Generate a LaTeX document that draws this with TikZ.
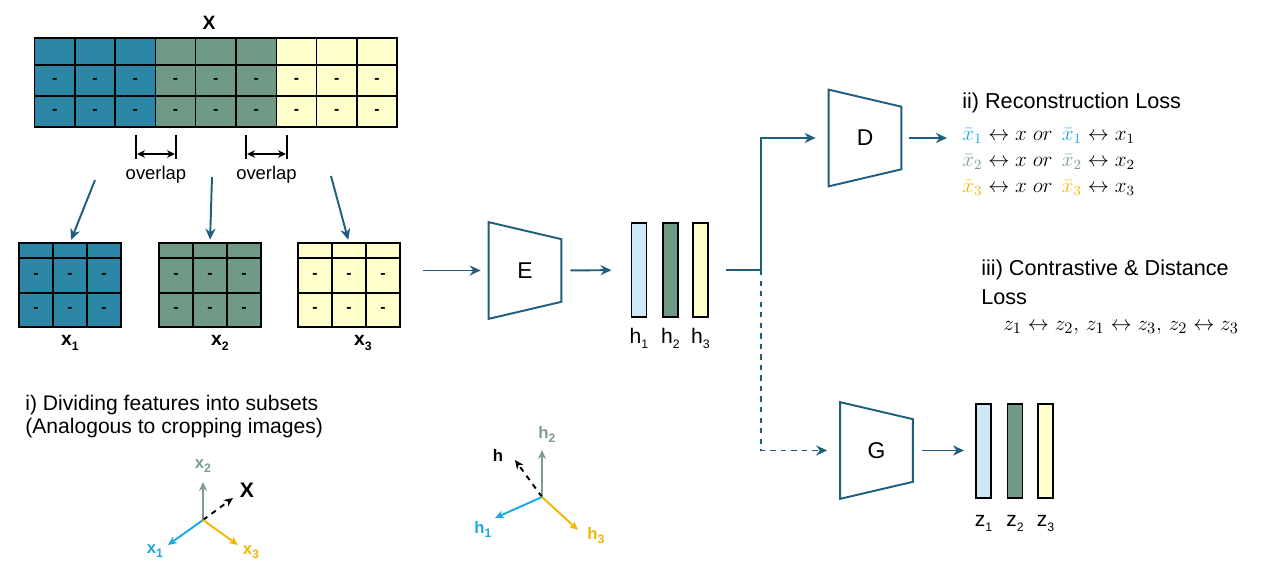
\documentclass[tikz,border=0pt]{standalone}
\usepackage{fontspec}
\setmainfont{Liberation Sans}
\setsansfont{Liberation Sans}
\usepackage{tikz}
\usetikzlibrary{calc,arrows.meta,positioning}
\definecolor{cellA}{RGB}{44,134,166}
\definecolor{cellB}{RGB}{111,154,133}
\definecolor{cellC}{RGB}{255,255,204}
\definecolor{barA}{RGB}{207,232,248}
\definecolor{netline}{RGB}{31,94,126}
\definecolor{vecA}{RGB}{28,168,227}
\definecolor{vecB}{RGB}{125,156,142}
\definecolor{vecC}{RGB}{242,183,5}
\newcommand{\lo}[1]{\raisebox{-0.45ex}{\scriptsize #1}}

\tikzset{
  net/.style={netline, line width=1.1pt},
  flow/.style={net, -{Stealth[length=2.2mm,width=2mm]}},
  block/.style={minimum width=1.44cm, minimum height=1.92cm, inner sep=0pt, font=\fontsize{13}{15}\selectfont},
  bar/.style={draw=black, line width=1.1pt, minimum width=0.3cm, minimum height=1.88cm, inner sep=0pt},
  cellline/.style={black, line width=0.8pt},
  celldash/.style={font=\small\bfseries, inner sep=0pt},
  vec/.style={line width=1.1pt, -{Stealth[length=1.8mm,width=1.6mm]}},
  lbl/.style={font=\fontsize{11}{13}\selectfont\bfseries},
  vlbl/.style={font=\fontsize{9.5}{11}\selectfont\bfseries},
  txt/.style={font=\fontsize{12.3}{14}\selectfont, anchor=west, inner sep=0pt},
  eq/.style={font=\fontsize{12}{14}\selectfont, anchor=west, inner sep=0pt},
}

\begin{document}
\begin{tikzpicture}[x=0.02cm, y=-0.02cm]
  \useasboundingbox (0,0) rectangle (1268,570);
  % Feature table X
  \foreach \c/\col in {0/cellA,1/cellA,2/cellA,3/cellB,4/cellB,5/cellB,6/cellC,7/cellC,8/cellC}
    \fill[\col] (34.5+\c*40.3,38) rectangle ++(40.3,89);
  \draw[cellline] (34.5,38) rectangle (397,127);
  \foreach \c in {1,...,8}
    \draw[cellline] (34.5+\c*40.3,38) -- ++(0,89);
  \foreach \yy in {65,96}
    \draw[cellline] (34.5,\yy) -- (397,\yy);
  \foreach \c in {0,...,8}
    \foreach \r/\yy in {1/80.5,2/111.5}
      \node[celldash] (X-\c-\r) at (54.65+\c*40.3,\yy) {-};
  \node[inner sep=0pt, minimum width=7.25cm, minimum height=1.78cm] (X) at (215.75,82.5) {};
  \node[lbl] (Xlbl) at (209,23) {X};
  % Overlap brackets
  \foreach \a/\b in {136/176,246/287} {
    \draw[black, line width=1pt] (\a,135) -- (\a,159);
    \draw[black, line width=1pt] (\b,135) -- (\b,159);
    \draw[black, line width=0.9pt, {Stealth[length=1.6mm,width=1.5mm]}-{Stealth[length=1.6mm,width=1.5mm]}] (\a+1,154) -- (\b-1,154);
    \node[font=\fontsize{10.5}{12}\selectfont] (ov\a) at ({(\a+\b)/2},175) {overlap};
  }
  % Subsets x1, x2, x3
  \foreach \s/\col/\x/\lx in {1/cellA/19/70,2/cellB/159/220,3/cellC/298/363} {
    \fill[\col] (\x,243) rectangle ++(102,84);
    \draw[cellline] (\x,243) rectangle ++(102,84);
    \foreach \k in {1,2}
      \draw[cellline] (\x+\k*34,243) -- ++(0,84);
    \foreach \yy in {258,293}
      \draw[cellline] (\x,\yy) -- ++(102,0);
    \foreach \k in {0,1,2}
      \foreach \r/\yy in {1/275.5,2/310}
        \node[celldash] (s\s-\k-\r) at (\x+\k*34+17,\yy) {-};
    \node[inner sep=0pt, minimum width=2.04cm, minimum height=1.68cm] (s\s) at (\x+51,285) {};
    \node[lbl] (x\s) at (\lx,343) {x\lo{\s}};
  }
  % Split arrows
  \coordinate (a1) at (95,180);
  \coordinate (a2) at (212,177);
  \coordinate (a3) at (331,176);
  \foreach \s in {1,2,3}
    \draw[flow, shorten >=0.06cm] (a\s) -- (s\s.north);
  \node[txt, font=\fontsize{12}{14}\selectfont] (note1) at (25,405) {i) Dividing features into subsets};
  \node[txt, font=\fontsize{12}{14}\selectfont] (note2) at (25,428) {(Analogous to cropping images)};
  % Encoder, decoder, projection head
  \node[block] (E) at (525,270.5) {E};
  \node[block] (D) at (865,138) {D};
  \node[block] (G) at (876.5,450.5) {G};
  \foreach \n in {E,D,G}
    \draw[net] (\n.north west) -- ($(\n.north east)+(0,17)$) -- ($(\n.south east)+(0,-17)$) -- (\n.south west) -- cycle;
  % Representations h and z
  \foreach \i/\col/\x in {1/barA/639,2/cellB/670.5,3/cellC/700.5} {
    \node[bar, fill=\col] (h\i) at (\x,270) {};
    \node[font=\fontsize{12}{14}\selectfont] (hl\i) at (\x,338) {h\lo{\i}};
  }
  \foreach \i/\col/\x in {1/barA/983.5,2/cellB/1015,3/cellC/1045.5} {
    \node[bar, fill=\col] (z\i) at (\x,451) {};
    \node[font=\fontsize{12}{14}\selectfont] (zl\i) at (\x,523) {z\lo{\i}};
  }
  % Losses
  \node[txt] (rec) at (962,103) {ii) Reconstruction Loss};
  \node[eq] (eq1) at (962,136) {$\color{vecA}\bar{x}_1\color{black} \leftrightarrow x\ or\ \,\color{vecA}\bar{x}_1\color{black} \leftrightarrow x_1$};
  \node[eq] (eq2) at (962,162) {$\color{vecB}\bar{x}_2\color{black} \leftrightarrow x\ or\ \,\color{vecB}\bar{x}_2\color{black} \leftrightarrow x_2$};
  \node[eq] (eq3) at (962,188) {$\color{vecC}\bar{x}_3\color{black} \leftrightarrow x\ or\ \,\color{vecC}\bar{x}_3\color{black} \leftrightarrow x_3$};
  \node[txt] (con) at (981,270) {iii) Contrastive \& Distance};
  \node[txt] (con2) at (981,297) {Loss};
  \node[eq, font=\fontsize{12.8}{14}\selectfont] (eq4) at (1003,328) {$z_1 \leftrightarrow z_2,\, z_1 \leftrightarrow z_3,\, z_2 \leftrightarrow z_3$};
  % Data flow
  \coordinate (in) at (423,270.5);
  \coordinate (br) at (761,270);
  \draw[flow, shorten >=0.16cm] (in) -- (E.west);
  \draw[flow, shorten <=0.18cm, shorten >=0.38cm] (E.east) -- (h1.west);
  \draw[net, shorten <=0.34cm] (h3.east) -- (br);
  \draw[flow, shorten >=0.26cm] (br) |- (D.west);
  \draw[flow, dashed, shorten >=0.26cm] (br) |- (G.west);
  \draw[flow, shorten <=0.16cm, shorten >=0.3cm] (D.east) -- (D.east -| eq1.west);
  \draw[flow, shorten <=0.18cm, shorten >=0.22cm] (G.east) -- (G.east -| z1.west);
  % Feature space sketch
  \coordinate (o1) at (203,520);
  \coordinate (t1) at (168,545);
  \coordinate (t2) at (203,482);
  \coordinate (t3) at (238,545);
  \coordinate (tX) at (233,498);
  \draw[vec, vecB] (o1) -- (t2);
  \draw[vec, black, dashed] (o1) -- (tX);
  \draw[vec, vecA] (o1) -- (t1);
  \draw[vec, vecC] (o1) -- (t3);
  \node[vlbl, vecB] (vx2) at (203,466) {x\lo{2}};
  \node[vlbl, font=\fontsize{12}{14}\selectfont\bfseries] (vX) at (247,490) {X};
  \node[vlbl, vecA] (vx1) at (155,551) {x\lo{1}};
  \node[vlbl, vecC] (vx3) at (251,552) {x\lo{3}};
  % Representation space sketch
  \coordinate (o2) at (542,497);
  \coordinate (u1) at (495,518);
  \coordinate (u2) at (542,450);
  \coordinate (u3) at (578,530);
  \coordinate (uh) at (515,460);
  \draw[vec, vecB] (o2) -- (u2);
  \draw[vec, black, dashed] (o2) -- (uh);
  \draw[vec, vecA] (o2) -- (u1);
  \draw[vec, vecC] (o2) -- (u3);
  \node[vlbl, vecB] (vh2) at (547,434) {h\lo{2}};
  \node[vlbl] (vh) at (498,455) {h};
  \node[vlbl, vecA] (vh1) at (483,529) {h\lo{1}};
  \node[vlbl, vecC] (vh3) at (596,536) {h\lo{3}};
\end{tikzpicture}
\end{document}
